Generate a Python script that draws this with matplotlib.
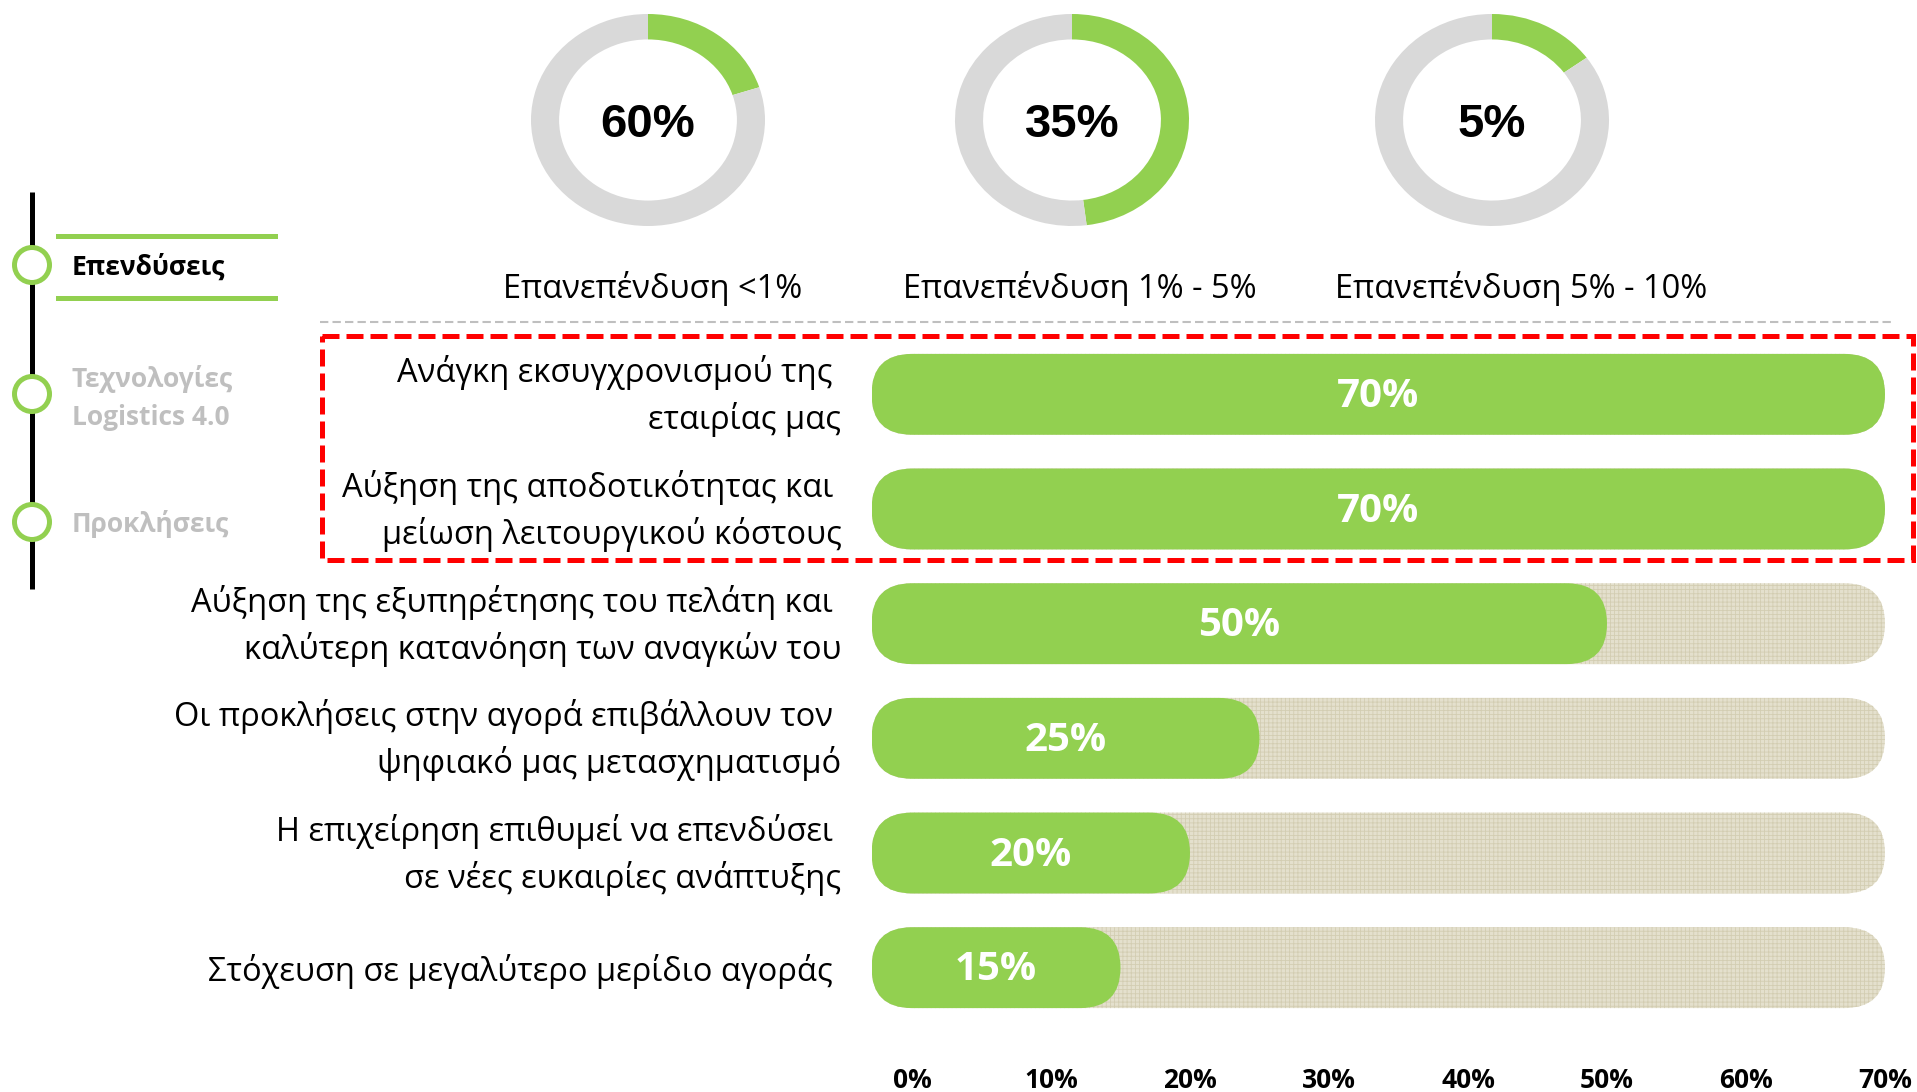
import matplotlib.pyplot as plt
import matplotlib.transforms as mtransforms
from matplotlib.patches import FancyBboxPatch, Circle, Rectangle

plt.rcParams['font.family'] = ['Open Sans', 'DejaVu Sans']
plt.rcParams['hatch.linewidth'] = 0.6

W, H = 1917, 1092
GREEN = '#92d050'
RING_GREY = '#d9d9d9'
TRACK = '#e4e0cd'
TRACK_LINES = '#d3cdb2'

# donuts at the top
donut_labels = ['60%', '35%', '5%']
donut_arc = [20, 48, 15]   # green share of each ring, as it is drawn
donut_captions = ['Επανεπένδυση <1%', 'Επανεπένδυση 1% - 5%', 'Επανεπένδυση 5% - 10%']

# bar chart
reasons = [
    'Ανάγκη εκσυγχρονισμού της \nεταιρίας μας',
    'Αύξηση της αποδοτικότητας και \nμείωση λειτουργικού κόστους',
    'Αύξηση της εξυπηρέτησης του πελάτη και \nκαλύτερη κατανόηση των αναγκών του',
    'Οι προκλήσεις στην αγορά επιβάλλουν τον \nψηφιακό μας μετασχηματισμό',
    'Η επιχείρηση επιθυμεί να επενδύσει \nσε νέες ευκαιρίες ανάπτυξης',
    'Στόχευση σε μεγαλύτερο μερίδιο αγοράς ',
]
values = [70, 70, 50, 25, 20, 15]
scale_max = 70
ticks = [0, 10, 20, 30, 40, 50, 60, 70]
tick_labels = ['0%', '10%', '20%', '30%', '40%', '50%', '60%', '70%']

# side menu
steps = ['Επενδύσεις', 'Τεχνολογίες\nLogistics 4.0', 'Προκλήσεις']
active_step = 0

fig = plt.figure(figsize=(W / 100, H / 100), dpi=100)


def px_axes(x0, y0, x1, y1):
    return fig.add_axes([x0 / W, 1 - y1 / H, (x1 - x0) / W, (y1 - y0) / H])


# overlay in pixel units for the decorations
deco = fig.add_axes([0, 0, 1, 1])
deco.set_xlim(0, W)
deco.set_ylim(H, 0)
deco.axis('off')

# donuts
for cx, capx, lab, arc, cap in zip([648, 1072, 1492], [653, 1080, 1521],
                                   donut_labels, donut_arc, donut_captions):
    dax = px_axes(cx - 117, 14, cx + 117, 226)
    dax.pie([arc, 100 - arc], colors=[GREEN, RING_GREY], startangle=90,
            counterclock=False, radius=1, wedgeprops=dict(width=0.24, linewidth=0))
    dax.set_aspect('auto')
    dax.set_xlim(-1, 1)
    dax.set_ylim(-1, 1)
    dax.text(0, -0.05, lab, ha='center', va='center', fontsize=34,
             fontweight='bold', family='Liberation Sans')
    deco.text(capx, 288, cap, ha='center', va='center', fontsize=23.5)

deco.plot([320, 1891], [322, 322], color='#bfbfbf', lw=1.5, linestyle=(0, (4, 2)))

# bars
ax = px_axes(872, 337, 1891, 1025)
ax.patch.set_alpha(0)
ppx = 13.9
ax.set_xlim(-40 / ppx, 70 + 6 / ppx)
ax.set_ylim(5.5, -0.5)
for s in ax.spines.values():
    s.set_visible(False)

rows = list(range(len(values)))
bar_h = 0.705
ppy = 688 / 6
r = bar_h * ppy / 2 / ppx
aspect = (bar_h / 2) / r


def pill(x, y, w, h, **kw):
    p = FancyBboxPatch((x - r, y), w + r, h, boxstyle=f'round,pad=0,rounding_size={r}',
                       mutation_aspect=aspect, linewidth=0, **kw)
    ax.add_patch(p)


tracks = ax.barh(rows, [scale_max] * len(rows), height=bar_h)
bars = ax.barh(rows, values, height=bar_h)
for t in tracks:
    pill(t.get_x(), t.get_y(), t.get_width(), t.get_height(),
         facecolor=TRACK, edgecolor=TRACK_LINES, hatch='++++', zorder=1)
    t.remove()
for b, v in zip(bars, values):
    pill(b.get_x(), b.get_y(), b.get_width(), b.get_height(), facecolor=GREEN, zorder=2)
    ax.text((v - r) / 2, b.get_y() + bar_h / 2 + 0.02, f'{v}%', ha='center', va='center',
            color='white', fontsize=29, fontweight='bold', zorder=3)
    b.remove()

ax.set_xticks(ticks, tick_labels)
ax.set_yticks(rows, reasons)
ax.tick_params(axis='x', length=0, pad=30, labelsize=19)
ax.tick_params(axis='y', length=0, pad=22, labelsize=23.5)
for lbl in ax.get_xticklabels():
    lbl.set_fontweight('bold')
shift_up = mtransforms.ScaledTranslation(0, 0.08, fig.dpi_scale_trans)
for lbl in ax.get_yticklabels():
    lbl.set_linespacing(1.45)
    if '\n' in lbl.get_text():
        lbl.set_transform(lbl.get_transform() + shift_up)

# highlighted group
deco.add_patch(Rectangle((322, 336), 1591, 224, fill=False, edgecolor='#ff0000',
                         lw=3.6, linestyle=(0, (3.4, 1.4))))

# side menu
deco.plot([32, 32], [192, 589], color='black', lw=3.6, solid_capstyle='butt')
deco.plot([58, 275], [236, 236], color=GREEN, lw=3.6)
deco.plot([58, 275], [298, 298], color=GREEN, lw=3.6)
for i, (y, name) in enumerate(zip([265, 396, 522], steps)):
    deco.add_patch(Circle((32, [265, 394, 522][i]), 17.5, facecolor='white',
                          edgecolor=GREEN, lw=3.6, zorder=3))
    deco.text(72, y + 2, name, va='center', fontsize=19, fontweight='bold',
              color='black' if i == active_step else '#bfbfbf', linespacing=1.5)

fig.savefig('out.png', dpi=100)
